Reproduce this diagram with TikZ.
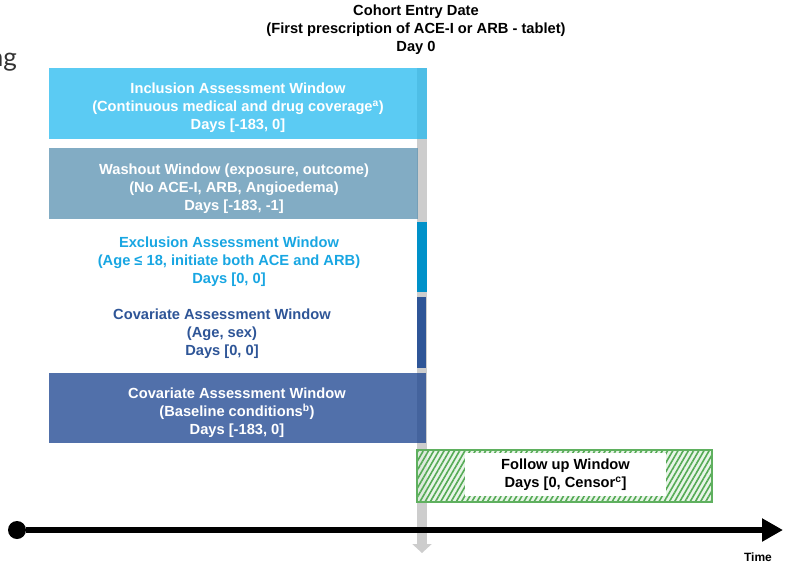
\documentclass[tikz,border=0pt]{standalone}
\usepackage{fontspec}
\setmainfont{Liberation Sans}
\newfontfamily\calfont{Lato}
\usetikzlibrary{arrows.meta,patterns.meta}
\definecolor{incblue}{HTML}{24BAEF}
\definecolor{washblue}{HTML}{5890B0}
\definecolor{basefill}{HTML}{17408E}
\definecolor{exclblue}{HTML}{18A6E2}
\definecolor{exclbar}{HTML}{0091C9}
\definecolor{covblue}{HTML}{2E5597}
\definecolor{dayzero}{HTML}{CDCDCD}
\definecolor{fuline}{HTML}{5FB05F}
\definecolor{fuhatch}{HTML}{55AA55}
\definecolor{fubg}{HTML}{E2F2E2}
\definecolor{ngtext}{HTML}{333333}

\begin{document}
\begin{tikzpicture}[x=1pt, y=-1pt,
  lbl/.style={font=\fontsize{14.67}{18}\selectfont\bfseries, align=center, inner sep=0pt},
  winfill/.style={fill=#1, fill opacity=0.75},
  day0/.style={draw=dayzero, line width=10pt, -{Triangle[length=9pt,width=19pt]}},
  timeline/.style={draw=black, line width=5.5pt, -{Triangle[length=21pt,width=22pt]}}]
\useasboundingbox (0,0) rectangle (790,563);

\node (ng) at (17,66) [anchor=base east, inner sep=0pt, text=ngtext] {\calfont\fontsize{26}{30}\selectfont ng};
\node (hdr) at (416,30) [lbl, text=black] {Cohort Entry Date\\(First prescription of ACE-I or ARB - tablet)\\Day 0};

\coordinate (d0top) at (422,68);
\coordinate (d0end) at (422,553);
\draw[day0] (d0top) -- (d0end);

\fill[winfill=incblue] (49,68) rectangle (427,139);
\fill[winfill=washblue] (49,148) rectangle (418,219);
\fill[exclbar] (417,222) rectangle (427,292);
\fill[covblue] (417,297) rectangle (426,368);
\fill[winfill=basefill] (49,373) rectangle (426,443);

\node (incl) at (238,108) [lbl, text=white] {Inclusion Assessment Window\\(Continuous medical and drug coverage\textsuperscript{a})\\Days [-183, 0]};
\node (wash) at (234,189) [lbl, text=white] {Washout Window (exposure, outcome)\\(No ACE-I, ARB, Angioedema)\\Days [-183, -1]};
\node (excl) at (229,262) [lbl, text=exclblue] {Exclusion Assessment Window\\(Age ≤ 18, initiate both ACE and ARB)\\Days [0, 0]};
\node (covage) at (222,334) [lbl, text=covblue] {Covariate Assessment Window\\(Age, sex)\\Days [0, 0]};
\node (covbase) at (237,413) [lbl, text=white] {Covariate Assessment Window\\(Baseline conditions\textsuperscript{b})\\Days [-183, 0]};

\path[preaction={fill=fubg, fill opacity=0.8}, pattern={Lines[angle=60,distance=4.5pt,line width=1.6pt]}, pattern color=fuhatch, fill opacity=0.85] (417,450) rectangle (712,502);
\draw[fuline, line width=1.2pt] (417,450) rectangle (712,502);
\node (fu) at (565.5,474.5) [lbl, fill=white, text=black, minimum width=201pt, minimum height=43pt] {Follow up Window\\Days [0, Censor\textsuperscript{c}]};

\node (t0) at (17,530) [circle, fill=black, minimum size=18pt, inner sep=0pt] {};
\coordinate (tend) at (783,530);
\draw[timeline] (t0) -- (tend);
\node (time) at (758,557) [font=\fontsize{12}{14}\selectfont\bfseries] {Time};
\end{tikzpicture}
\end{document}
